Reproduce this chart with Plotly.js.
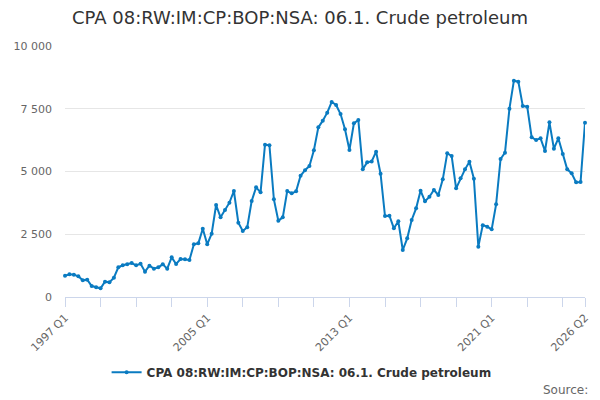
<!DOCTYPE html>
<html>
<head>
<meta charset="utf-8">
<script src="https://cdn.plot.ly/plotly-3.0.1.min.js"></script>
<style>
  body { margin: 0; }
  #chart { width: 600px; height: 400px; }
</style>
</head>
<body>
<div id="chart"></div>
<script>
// quarterly values, 1997 Q1 .. 2026 Q2
var values = [
  850, 903, 890, 824, 664, 690, 438, 385,
  345, 611, 584, 770, 1182, 1262, 1302, 1355,
  1262, 1328, 1010, 1248, 1129, 1182, 1302, 1129,
  1580, 1315, 1514, 1500, 1474, 2100, 2140, 2722,
  2100, 2520, 3665, 3174, 3466, 3758, 4223, 2961,
  2629, 2776, 3825, 4369, 4170, 6069, 6043, 3891,
  3041, 3174, 4220, 4130, 4210, 4830, 5050, 5219,
  5850, 6760, 7025, 7344, 7769, 7649, 7291, 6680,
  5856, 6919, 7052, 5086, 5370, 5400, 5790, 4910,
  3227, 3240, 2736, 3015, 1872, 2337, 3068, 3532,
  4237, 3811, 3997, 4263, 4064, 4688, 5723, 5617,
  4329, 4728, 5086, 5392, 4710, 2005, 2862, 2802,
  2696, 3692, 5498, 5750, 7503, 8619, 8579, 7610,
  7583, 6361, 6255, 6321, 5817, 6959, 5910, 6321,
  5697, 5086, 4927, 4568, 4582, 6945
];

var quarters = [];
for (var y = 1997; y <= 2026; y++) {
  for (var q = 1; q <= 4; q++) {
    if (quarters.length < values.length) quarters.push(y + ' Q' + q);
  }
}

var labelled = ['1997 Q1', '2005 Q1', '2013 Q1', '2021 Q1', '2026 Q2'];

// a tick every 2 years, a label every 8 years and on the last quarter
var tickVals = [];
var tickText = [];
for (var i = 0; i < quarters.length; i++) {
  if (i % 8 == 0 || i == quarters.length - 1) {
    tickVals.push(quarters[i]);
    tickText.push(labelled.indexOf(quarters[i]) >= 0 ? quarters[i] : '');
  }
}

var seriesName = 'CPA 08:RW:IM:CP:BOP:NSA: 06.1. Crude petroleum';

var data = [{
  x: quarters,
  y: values,
  type: 'scatter',
  mode: 'lines+markers',
  name: seriesName,
  line: { color: '#0a7bc1', width: 2 },
  marker: { color: '#0a7bc1', size: 4 },
  cliponaxis: false
}];

var layout = {
  width: 600,
  height: 400,
  margin: { l: 65, r: 15, t: 46, b: 103 },
  paper_bgcolor: '#ffffff',
  plot_bgcolor: '#ffffff',
  separators: '. ',
  font: { family: 'DejaVu Sans, sans-serif', color: '#666666', size: 11 },
  title: {
    text: seriesName,
    font: { family: 'DejaVu Sans, sans-serif', size: 18, color: '#333333' },
    x: 0.5,
    xanchor: 'center',
    y: 0.955,
    yanchor: 'middle'
  },
  xaxis: {
    type: 'category',
    range: [0, quarters.length - 1],
    tickmode: 'array',
    tickvals: tickVals,
    ticktext: tickText,
    tickangle: -45,
    ticks: 'outside',
    ticklen: 9,
    tickcolor: '#ccd6eb',
    showgrid: false,
    showline: true,
    linecolor: '#ccd6eb',
    linewidth: 1,
    tickfont: { size: 11, color: '#666666' }
  },
  yaxis: {
    range: [0, 10000],
    dtick: 2500,
    tickformat: ',d',
    showgrid: true,
    gridcolor: '#e6e6e6',
    zeroline: false,
    showline: false,
    ticklabelstandoff: 12,
    tickfont: { size: 11, color: '#666666' }
  },
  showlegend: true,
  legend: {
    orientation: 'h',
    x: 0.455,
    xanchor: 'center',
    y: -0.30,
    yanchor: 'middle',
    itemwidth: 30,
    font: { size: 12, color: '#333333', weight: 'bold' }
  },
  annotations: [{
    text: 'Source:',
    xref: 'paper',
    yref: 'paper',
    x: 1.01,
    xanchor: 'right',
    y: -0.37,
    yanchor: 'middle',
    showarrow: false,
    font: { size: 12, color: '#666666' }
  }]
};

Plotly.newPlot('chart', data, layout, { displayModeBar: false, staticPlot: true });
</script>
</body>
</html>
